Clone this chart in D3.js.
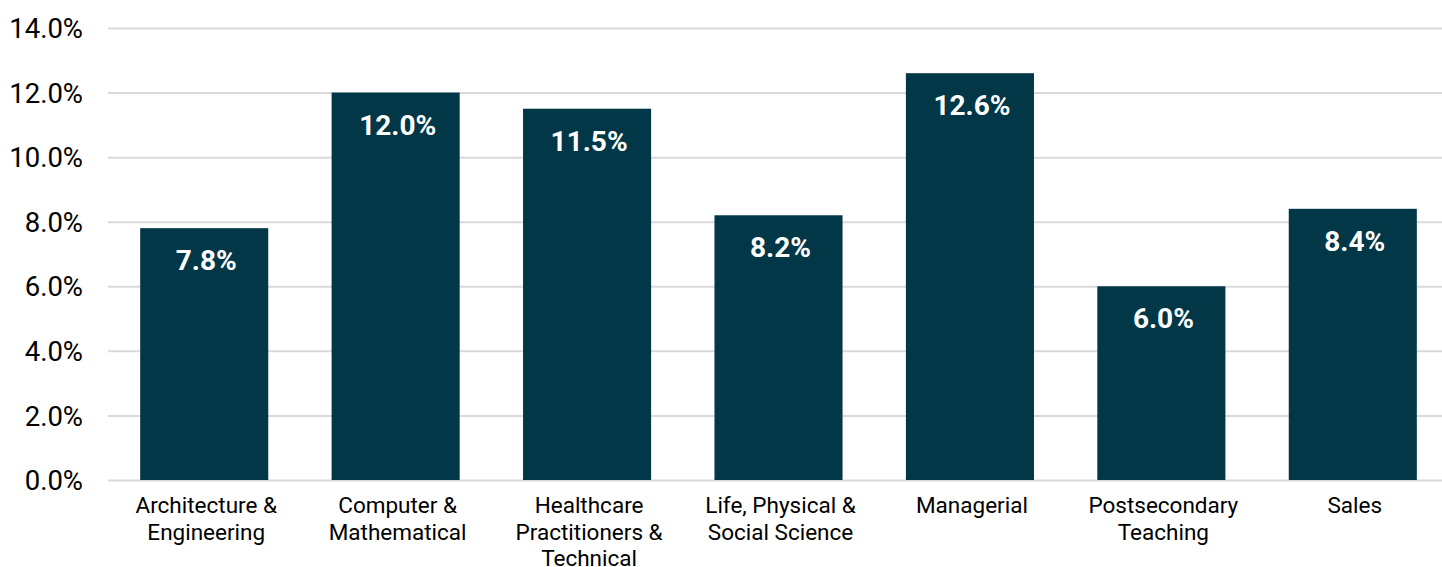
<!DOCTYPE html>
<html>
<head>
<meta charset="utf-8">
<script src="https://cdn.jsdelivr.net/npm/d3@7"></script>
<style>
  html, body { margin: 0; padding: 0; background: #ffffff; }
  svg { display: block; }
</style>
</head>
<body>
<svg id="chart" width="1442" height="567"></svg>
<script>
const categories = [
  "Architecture &\nEngineering",
  "Computer &\nMathematical",
  "Healthcare\nPractitioners &\nTechnical",
  "Life, Physical &\nSocial Science",
  "Managerial",
  "Postsecondary\nTeaching",
  "Sales"
];
const values = [7.8, 12.0, 11.5, 8.2, 12.6, 6.0, 8.4];
const yTicks = [0, 2, 4, 6, 8, 10, 12, 14];

const W = 1442, H = 567;
const svg = d3.select("#chart");
const font = "Roboto, 'Noto Sans', Arial, sans-serif";

const x = d3.scaleBand()
  .domain(categories)
  .range([108.5, 1448.5])
  .paddingInner(0.331)
  .paddingOuter(0.1655);

const y = d3.scaleLinear().domain([0, 14]).range([480, 28]);

// gridlines
const yAxis = d3.axisLeft(y)
  .tickValues(yTicks)
  .tickSize(-(W - 108))
  .tickPadding(25)
  .tickFormat(d => d3.format(".1f")(d) + "%");

const gy = svg.append("g").attr("transform", "translate(108,0)").call(yAxis);
gy.select(".domain").remove();
gy.selectAll(".tick line").attr("stroke", "#d9d9d9").attr("stroke-width", 2);
gy.selectAll(".tick text")
  .attr("fill", "#000")
  .style("font-family", font)
  .style("font-size", "27.5px")
  .attr("dy", "0.35em");

// bars
svg.append("g").selectAll("rect")
  .data(values)
  .join("rect")
  .attr("x", (d, i) => x(categories[i]))
  .attr("y", d => y(d))
  .attr("width", x.bandwidth())
  .attr("height", d => y(0) - y(d))
  .attr("fill", "#023747");

// value labels
svg.append("g").selectAll("text")
  .data(values)
  .join("text")
  .attr("x", (d, i) => x(categories[i]) + x.bandwidth() / 2 + 2)
  .attr("y", d => y(d) + 42)
  .attr("text-anchor", "middle")
  .attr("fill", "#ffffff")
  .style("font-family", font)
  .style("font-weight", "bold")
  .style("font-size", "28px")
  .text(d => d3.format(".1f")(d) + "%");

// category labels
const xAxis = d3.axisBottom(x).tickSize(0).tickFormat("");
const gx = svg.append("g").attr("transform", "translate(0,480)").call(xAxis);
gx.select(".domain").remove();
gx.selectAll(".tick").each(function(d) {
  const t = d3.select(this).append("text")
    .attr("text-anchor", "middle")
    .attr("fill", "#000")
    .style("font-family", font)
    .style("font-size", "22.5px");
  d.split("\n").forEach((line, i) => {
    t.append("tspan").attr("x", 2).attr("y", 33 + i * 26.6).text(line);
  });
});
</script>
</body>
</html>
